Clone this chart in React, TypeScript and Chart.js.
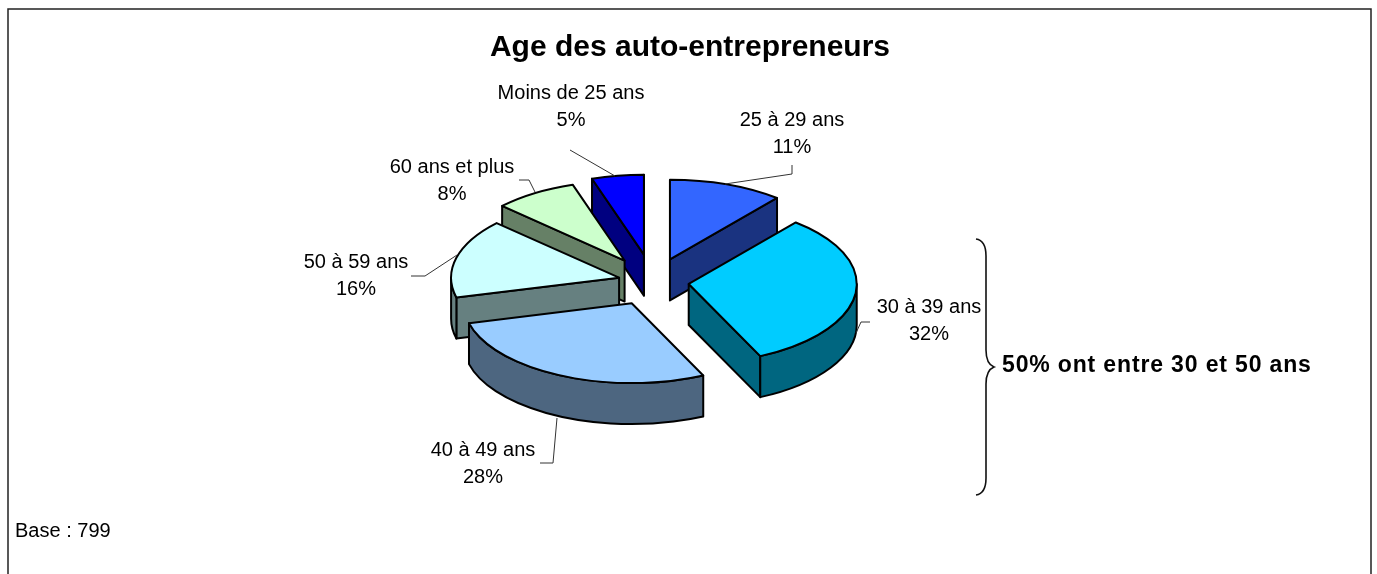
import React, { useEffect, useRef } from "react";
import { Chart, registerables } from "chart.js";

Chart.register(...registerables);

const categories = ["25 à 29 ans", "30 à 39 ans", "40 à 49 ans", "50 à 59 ans", "60 ans et plus", "Moins de 25 ans"];
const values = [11, 32, 28, 16, 8, 5];
const topColors = ["#3366FF", "#00CCFF", "#99CCFF", "#CCFFFF", "#CCFFCC", "#0000FF"];
const wallColors = ["#1A3380", "#006680", "#4D6680", "#668080", "#668066", "#000080"];
const explode = [50, 36, 50, 35, 53, 58];
const chartTitle = "Age des auto-entrepreneurs";
const note = "50% ont entre 30 et 50 ans";
const baseNote = "Base : 799";

const FONT = '"Liberation Sans", Arial, sans-serif';
const TILT = 0.475;
const DEPTH = 41;
const SHIFT_X = -37;

const labelPlaces = [
  { x: 792, y: 120, line: [[792, 165], [792, 174], [725, 184]] },
  { x: 929, y: 307, line: [[870, 322], [861, 322], [856, 333]] },
  { x: 483, y: 450, line: [[557, 418], [553, 463], [540, 463]] },
  { x: 356, y: 262, line: [[411, 276], [425, 276], [457, 255]] },
  { x: 452, y: 167, line: [[519, 180], [529, 180], [535, 192]] },
  { x: 571, y: 93, line: [[570, 150], [615, 176]] },
];

const pie3d = {
  id: "pie3d",
  beforeDatasetDraw(chart: any) {
    const ctx = chart.ctx;
    const els = chart.getDatasetMeta(0).data;
    const geo = els.map((el: any, i: number) => {
      const mid = (el.startAngle + el.endAngle) / 2;
      return {
        el,
        i,
        ox: el.x + SHIFT_X + Math.cos(mid) * explode[i],
        oy: el.y + Math.sin(mid) * explode[i] * TILT,
        R: el.outerRadius,
        s: el.startAngle,
        e: el.endAngle,
      };
    });
    ctx.save();
    ctx.lineJoin = "round";
    ctx.lineWidth = 2;
    ctx.strokeStyle = "#000";
    // back-to-front, so that nearer walls hide farther ones
    const ordered = [...geo].sort((a: any, b: any) => a.oy - b.oy);
    ordered.forEach((g: any) => {
      const color = wallColors[g.i];
      const pt = (a: number) => [g.ox + g.R * Math.cos(a), g.oy + g.R * TILT * Math.sin(a)];
      const face = (a: number) => {
        const p = pt(a);
        ctx.beginPath();
        ctx.moveTo(g.ox, g.oy);
        ctx.lineTo(p[0], p[1]);
        ctx.lineTo(p[0], p[1] + DEPTH);
        ctx.lineTo(g.ox, g.oy + DEPTH);
        ctx.closePath();
        ctx.fillStyle = color;
        ctx.fill();
        ctx.stroke();
      };
      if (Math.cos(g.s) < 0) face(g.s);
      if (Math.cos(g.e) > 0) face(g.e);
      const a0 = Math.max(g.s, 0);
      const a1 = Math.min(g.e, Math.PI);
      if (a1 > a0) {
        ctx.beginPath();
        ctx.ellipse(g.ox, g.oy, g.R, g.R * TILT, 0, a0, a1);
        ctx.ellipse(g.ox, g.oy + DEPTH, g.R, g.R * TILT, 0, a1, a0, true);
        ctx.closePath();
        ctx.fillStyle = color;
        ctx.fill();
        ctx.stroke();
      }
    });
    geo.forEach((g: any) => {
      ctx.save();
      ctx.translate(g.ox, g.oy);
      ctx.scale(1, TILT);
      ctx.translate(-g.el.x, -g.el.y);
      g.el.draw(ctx);
      ctx.restore();
      ctx.beginPath();
      ctx.moveTo(g.ox, g.oy);
      ctx.ellipse(g.ox, g.oy, g.R, g.R * TILT, 0, g.s, g.e);
      ctx.closePath();
      ctx.stroke();
    });
    ctx.restore();
    return false;
  },
  afterDraw(chart: any) {
    const ctx = chart.ctx;
    ctx.save();
    // frame
    ctx.strokeStyle = "#222";
    ctx.lineWidth = 1.5;
    ctx.beginPath();
    ctx.moveTo(8, 574);
    ctx.lineTo(8, 9);
    ctx.lineTo(1371, 9);
    ctx.lineTo(1371, 574);
    ctx.stroke();
    // leader lines and labels
    ctx.lineWidth = 1;
    ctx.strokeStyle = "#333";
    ctx.fillStyle = "#000";
    ctx.textAlign = "center";
    ctx.textBaseline = "middle";
    ctx.font = `20px ${FONT}`;
    categories.forEach((c, i) => {
      const p = labelPlaces[i];
      ctx.beginPath();
      p.line.forEach((q, j) => (j ? ctx.lineTo(q[0], q[1]) : ctx.moveTo(q[0], q[1])));
      ctx.stroke();
      ctx.fillText(c, p.x, p.y);
      ctx.fillText(`${values[i]}%`, p.x, p.y + 27);
    });
    ctx.textAlign = "left";
    ctx.fillText(baseNote, 15, 531);
    // brace
    ctx.strokeStyle = "#111";
    ctx.lineWidth = 1.6;
    ctx.beginPath();
    ctx.moveTo(976, 239);
    ctx.bezierCurveTo(983, 240, 986, 245, 986, 256);
    ctx.lineTo(986, 350);
    ctx.bezierCurveTo(986, 360, 989, 365, 994, 367);
    ctx.bezierCurveTo(989, 369, 986, 374, 986, 384);
    ctx.lineTo(986, 478);
    ctx.bezierCurveTo(986, 489, 983, 494, 976, 495);
    ctx.stroke();
    // note
    ctx.font = `bold 23px ${FONT}`;
    (ctx as any).letterSpacing = "0.85px";
    ctx.fillText(note, 1002, 366);
    ctx.restore();
  },
};

export default function App() {
  const ref = useRef<HTMLCanvasElement | null>(null);
  useEffect(() => {
    document.body.style.margin = "0";
    const chart = new Chart(ref.current as HTMLCanvasElement, {
      type: "pie",
      data: {
        labels: categories,
        datasets: [
          {
            data: values,
            backgroundColor: topColors,
            borderWidth: 0,
            radius: 168,
          } as any,
        ],
      },
      options: {
        responsive: false,
        animation: false,
        events: [],
        layout: { padding: { left: 3, right: 0, top: 0, bottom: 80 } },
        plugins: {
          legend: { display: false },
          tooltip: { enabled: false },
          title: {
            display: true,
            text: chartTitle,
            color: "#000",
            font: { family: FONT, size: 30, weight: "bold" },
            padding: { top: 30, bottom: 3.6 },
          },
        },
      },
      plugins: [pie3d as any],
    });
    return () => chart.destroy();
  }, []);
  return <canvas ref={ref} width={1377} height={574} style={{ display: "block" }} />;
}
